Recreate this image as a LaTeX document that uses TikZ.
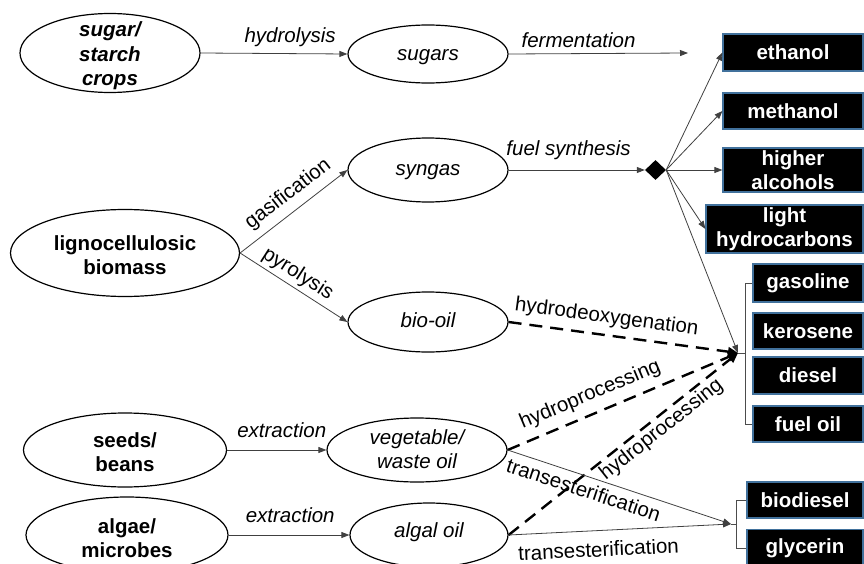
\documentclass[tikz,border=0pt]{standalone}
\usepackage{fontspec}
\setmainfont{Liberation Sans}
\usetikzlibrary{shapes.geometric,arrows.meta}
\definecolor{boxedge}{RGB}{65,113,156}
\begin{document}
\begin{tikzpicture}[x=1pt,y=-1pt,
  txt/.style={font=\fontsize{20.5}{24.5}\selectfont, inner sep=0pt, align=center},
  ell/.style={ellipse, draw=black, line width=1.2pt, inner sep=0pt},
  prod/.style={rectangle, fill=black, draw=boxedge, line width=1.2pt, text=white, font=\fontsize{20.5}{24}\selectfont\bfseries, align=center, inner sep=0pt},
  flow/.style={draw=black!75, line width=0.8pt, -{Triangle[length=8pt,width=6pt]}},
  dflow/.style={draw=black, line width=2.4pt, dash pattern=on 13pt off 8pt, -{Triangle[length=10pt,width=9pt]}},
  brk/.style={draw=black!70, line width=1pt},
  lab/.style={txt, font=\fontsize{20.5}{24.5}\selectfont\itshape},
  slab/.style={txt, sloped},
]
\useasboundingbox (0,0) rectangle (864,564);

% ---------- source ellipses ----------
\node[ell, minimum width=180pt, minimum height=79pt] (crops) at (110,53) {};
\node[txt, font=\fontsize{20.5}{24.5}\selectfont\bfseries\itshape] (cropsT) at (110,56) {sugar/\\starch\\crops};

\node[ell, minimum width=229pt, minimum height=87pt] (ligno) at (125,253) {};
\node[txt, font=\fontsize{20.5}{24.5}\selectfont\bfseries] (lignoT) at (125,255) {lignocellulosic\\biomass};

\node[ell, minimum width=203pt, minimum height=74pt] (seeds) at (125,450) {};
\node[txt, font=\fontsize{20.5}{24.5}\selectfont\bfseries] (seedsT) at (125,452) {seeds/\\beans};

\node[ell, minimum width=202pt, minimum height=76pt] (algae) at (127,535) {};
\node[txt, font=\fontsize{20.5}{24.5}\selectfont\bfseries] (algaeT) at (127,538) {algae/\\microbes};

% ---------- intermediate ellipses ----------
\node[ell, minimum width=160pt, minimum height=58pt] (sugars) at (428,54) {};
\node[lab] (sugarsT) at (428,57) {sugars};

\node[ell, minimum width=160pt, minimum height=64pt] (syngas) at (428,170) {};
\node[lab] (syngasT) at (428,172) {syngas};

\node[ell, minimum width=160pt, minimum height=60pt] (biooil) at (428,322) {};
\node[lab] (biooilT) at (428,320) {bio-oil};

\node[ell, minimum width=180pt, minimum height=64pt] (veg) at (417,450) {};
\node[lab] (vegT) at (417,449) {vegetable/\\waste oil};

\node[ell, minimum width=158pt, minimum height=64pt] (algal) at (429,535) {};
\node[lab] (algalT) at (429,532) {algal oil};

% ---------- diamond ----------
\node[diamond, fill=black, minimum width=21pt, minimum height=20pt, inner sep=0pt] (dmd) at (655.5,170) {};

% ---------- products ----------
\node[prod, minimum width=140pt, minimum height=37pt] (ethanol) at (793,52.5) {ethanol};
\node[prod, minimum width=140pt, minimum height=36pt] (methanol) at (793,111) {methanol};
\node[prod, minimum width=140pt, minimum height=44pt] (higher) at (793,170) {higher\\alcohols};
\node[prod, minimum width=157pt, minimum height=48pt] (light) at (784.5,229) {light\\hydrocarbons};
\node[prod, minimum width=110pt, minimum height=38pt] (gasoline) at (808,283) {gasoline};
\node[prod, minimum width=110pt, minimum height=36pt] (kerosene) at (808,331) {kerosene};
\node[prod, minimum width=110pt, minimum height=37pt] (diesel) at (808,375.5) {diesel};
\node[prod, minimum width=110pt, minimum height=36pt] (fueloil) at (808,424) {fuel oil};
\node[prod, minimum width=116pt, minimum height=36pt] (biodiesel) at (805,500) {biodiesel};
\node[prod, minimum width=116pt, minimum height=37pt] (glycerin) at (805,548) {glycerin};

% ---------- brackets ----------
\coordinate (fbr) at (738,353);
\coordinate (bbr) at (731,524);
\draw[brk] (gasoline.west) -- ++(-7,0) |- (fueloil.west);
\draw[brk] (fbr) -- (746,353);
\draw[brk] (biodiesel.west) -- ++(-10,0) |- (glycerin.west);
\draw[brk] (bbr) -- (737,524);

\coordinate (fermEnd) at (688,53);

% ---------- connectors ----------
\draw[flow] (crops.east) -- node[lab, pos=0.61, above=6.75pt] (lhydrolysis) {hydrolysis} (sugars.west);
\draw[flow] (sugars.east) -- node[lab, pos=0.39, above=5.85pt] (lferm) {fermentation} (fermEnd);
\draw[flow] (ligno.east) -- node[slab, pos=0.545, above=7pt] (lgas) {gasification} (syngas.west);
\draw[flow] (ligno.east) -- node[slab, pos=0.47, above=3.5pt] (lpyro) {pyrolysis} (biooil.west);
\draw[flow] (syngas.east) -- node[lab, pos=0.44, above=9.75pt] (lfs) {fuel synthesis} (dmd.west);
\draw[flow] (seeds.east) -- node[lab, pos=0.55, above=12pt] (lext1) {extraction} (veg.west);
\draw[flow] (algae.east) -- node[lab, pos=0.51, above=12pt] (lext2) {extraction} (algal.west);

\draw[flow] (dmd.east) -- (ethanol.west);
\draw[flow] (dmd.east) -- (methanol.west);
\draw[flow] (dmd.east) -- (higher.west);
\draw[flow] (dmd.east) -- (light.west);
\draw[flow] (dmd.east) -- (fbr);

\draw[dflow] (biooil.east) -- node[slab, pos=0.417, above=6.9pt] (lhdo) {hydrodeoxygenation} (fbr);
\draw[dflow] (veg.east) -- node[slab, pos=0.39, above=8pt] (lhp1) {hydroprocessing} (fbr);
\draw[dflow] (algal.east) -- node[slab, pos=0.632, below=2pt] (lhp2) {hydroprocessing} (fbr);

\draw[flow] (veg.east) -- node[slab, pos=0.36, below=5.75pt] (lte1) {transesterification} (bbr);
\draw[flow] (algal.east) -- node[slab, pos=0.4, below=10.85pt] (lte2) {transesterification} (bbr);
\end{tikzpicture}
\end{document}
